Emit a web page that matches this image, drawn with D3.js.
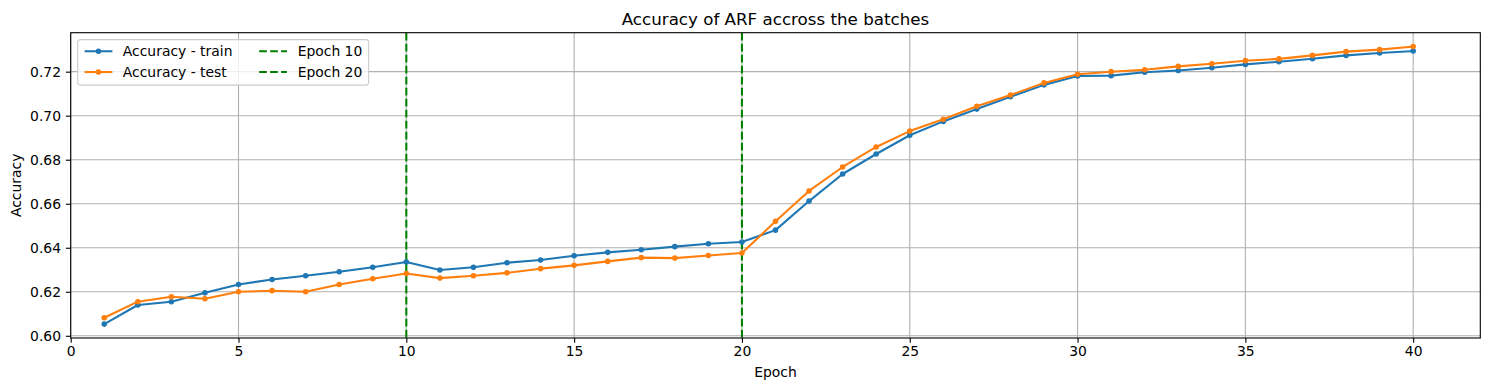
<!DOCTYPE html>
<html>
<head>
<meta charset="utf-8">
<script src="https://cdn.jsdelivr.net/npm/d3@7"></script>
<style>
  html, body { margin: 0; padding: 0; background: #fff; }
  svg { display: block; font-family: "DejaVu Sans", sans-serif; }
</style>
</head>
<body>
<svg id="chart" width="1489" height="390"></svg>
<script>
const epochs = d3.range(1, 41);
const trainAcc = [
  0.6053, 0.6140, 0.6155, 0.6195, 0.6233, 0.6256, 0.6273, 0.6291, 0.6311, 0.6335,
  0.6299, 0.6311, 0.6332, 0.6344, 0.6364, 0.6379, 0.6391, 0.6405, 0.6418, 0.6426,
  0.6480, 0.6612, 0.6735, 0.6826, 0.6911, 0.6974, 0.7030, 0.7086, 0.7140, 0.7180,
  0.7182, 0.7197, 0.7205, 0.7218, 0.7233, 0.7245, 0.7259, 0.7274, 0.7285, 0.7294
];
const testAcc = [
  0.6082, 0.6155, 0.6177, 0.6168, 0.6200, 0.6205, 0.6200, 0.6233, 0.6259, 0.6283,
  0.6262, 0.6273, 0.6286, 0.6305, 0.6320, 0.6338, 0.6355, 0.6353, 0.6365, 0.6376,
  0.6520, 0.6658, 0.6767, 0.6858, 0.6930, 0.6984, 0.7043, 0.7094, 0.7149, 0.7188,
  0.7200, 0.7209, 0.7224, 0.7236, 0.7250, 0.7258, 0.7274, 0.7291, 0.7300, 0.7314
];
const vlines = [10, 20];
const xTicks = [0, 5, 10, 15, 20, 25, 30, 35, 40];
const yTicks = [0.60, 0.62, 0.64, 0.66, 0.68, 0.70, 0.72];
const seriesNames = ["Accuracy - train", "Accuracy - test"];
const vlineNames = ["Epoch 10", "Epoch 20"];
const colors = ["#1f77b4", "#ff7f0e"];

const svg = d3.select("#chart");
const L = 70.7, R = 1480.3, T = 32.7, B = 338;
const fs = 13.9;

const allVals = trainAcc.concat(testAcc);
const ymin = d3.min(allVals), ymax = d3.max(allVals);
const pad = (ymax - ymin) * 0.05;
const x = d3.scaleLinear().domain([0, 42]).range([L, R]);
const y = d3.scaleLinear().domain([ymin - pad, ymax + pad]).range([B, T]);

// grid
const grid = svg.append("g");
xTicks.forEach(t => grid.append("line")
  .attr("x1", x(t)).attr("x2", x(t)).attr("y1", T).attr("y2", B)
  .attr("stroke", "#b0b0b0").attr("stroke-width", 1.1));
yTicks.forEach(t => grid.append("line")
  .attr("x1", L).attr("x2", R).attr("y1", y(t)).attr("y2", y(t))
  .attr("stroke", "#b0b0b0").attr("stroke-width", 1.1));

// vertical dashed lines
vlines.forEach(v => svg.append("line")
  .attr("x1", x(v)).attr("x2", x(v)).attr("y1", T).attr("y2", B)
  .attr("stroke", "#008000").attr("stroke-width", 2.08)
  .attr("stroke-dasharray", "7.7,3.3"));

// series
const line = d3.line().x((d, i) => x(epochs[i])).y(d => y(d));
[trainAcc, testAcc].forEach((s, k) => {
  const g = svg.append("g");
  g.append("path").datum(s).attr("d", line)
    .attr("fill", "none").attr("stroke", colors[k]).attr("stroke-width", 2.08)
    .attr("stroke-linejoin", "round").attr("stroke-linecap", "square");
  g.selectAll("circle").data(s).join("circle")
    .attr("cx", (d, i) => x(epochs[i])).attr("cy", d => y(d)).attr("r", 2.1)
    .attr("fill", colors[k]).attr("stroke", colors[k]).attr("stroke-width", 1.39);
});

// spines
svg.append("rect").attr("x", L).attr("y", T).attr("width", R - L).attr("height", B - T)
  .attr("fill", "none").attr("stroke", "#000").attr("stroke-width", 1.1);

// axes
const xAxis = d3.axisBottom(x).tickValues(xTicks).tickSize(4.86).tickPadding(3.5).tickFormat(d3.format("d"));
const gx = svg.append("g").attr("transform", `translate(0,${B})`).call(xAxis);
gx.select(".domain").remove();
gx.selectAll(".tick line").attr("stroke", "#000").attr("stroke-width", 1.1);
gx.selectAll(".tick text").attr("font-size", fs).attr("fill", "#000").attr("font-family", "DejaVu Sans");

const yAxis = d3.axisLeft(y).tickValues(yTicks).tickSize(4.86).tickPadding(4.86).tickFormat(d3.format(".2f"));
const gy = svg.append("g").attr("transform", `translate(${L},0)`).call(yAxis);
gy.select(".domain").remove();
gy.selectAll(".tick line").attr("stroke", "#000").attr("stroke-width", 1.1);
gy.selectAll(".tick text").attr("font-size", fs).attr("fill", "#000").attr("font-family", "DejaVu Sans");

// labels
svg.append("text").attr("x", (L + R) / 2).attr("y", 24.5).attr("text-anchor", "middle")
  .attr("font-size", 16.7).text("Accuracy of ARF accross the batches");
svg.append("text").attr("x", (L + R) / 2).attr("y", 376.5).attr("text-anchor", "middle")
  .attr("font-size", fs).text("Epoch");
svg.append("text").attr("transform", `translate(20.5,${(T + B) / 2}) rotate(-90)`)
  .attr("text-anchor", "middle").attr("font-size", fs).text("Accuracy");

// legend
const lg = svg.append("g").attr("transform", `translate(${L + 6.95},${T + 6.95})`);
lg.append("rect").attr("x", 0).attr("y", 0).attr("width", 291).attr("height", 45.5)
  .attr("rx", 2.8).attr("fill", "#fff").attr("fill-opacity", 0.8)
  .attr("stroke", "#cccccc").attr("stroke-width", 1.1);
const rowY = [11.6, 32.4];
seriesNames.forEach((n, k) => {
  lg.append("line").attr("x1", 6.95).attr("x2", 34.75).attr("y1", rowY[k]).attr("y2", rowY[k])
    .attr("stroke", colors[k]).attr("stroke-width", 2.08);
  lg.append("circle").attr("cx", 20.85).attr("cy", rowY[k]).attr("r", 2.1)
    .attr("fill", colors[k]).attr("stroke", colors[k]).attr("stroke-width", 1.39);
  lg.append("text").attr("x", 45.2).attr("y", rowY[k] + 5).attr("font-size", fs).text(n);
});
vlineNames.forEach((n, k) => {
  lg.append("line").attr("x1", 181.5).attr("x2", 209.3).attr("y1", rowY[k]).attr("y2", rowY[k])
    .attr("stroke", "#008000").attr("stroke-width", 2.08).attr("stroke-dasharray", "7.7,3.3");
  lg.append("text").attr("x", 220).attr("y", rowY[k] + 5).attr("font-size", fs).text(n);
});
</script>
</body>
</html>
